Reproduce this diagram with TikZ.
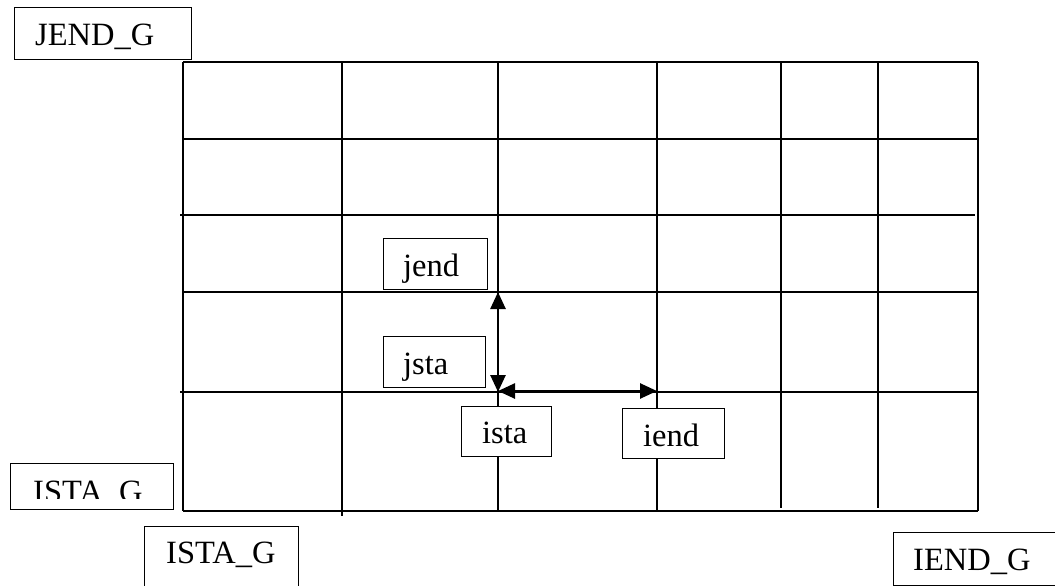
\documentclass[tikz,border=0pt]{standalone}
\usepackage{fontspec}
\setmainfont{Liberation Serif}
\usetikzlibrary{arrows.meta}
\begin{document}
\begin{tikzpicture}[x=1pt,y=-1pt,
  gridline/.style={line width=1.5pt},
  boxnode/.style={draw,line width=1.4pt,fill=white,rectangle,inner sep=0pt},
  lbl/.style={anchor=base west,inner sep=0pt,font=\fontsize{32.5}{37}\selectfont},
  dbl/.style={line width=2.6pt,{Triangle[length=17pt,width=15pt]}-{Triangle[length=17pt,width=15pt]}}]
\clip (0,0) rectangle (1055,586);
\fill[white] (0,0) rectangle (1055,586);
% grid
\draw[gridline] (183,62) -- (978,62);
\draw[gridline] (183,139) -- (978,139);
\draw[gridline] (180,215) -- (975,215);
\draw[gridline] (183,292) -- (978,292);
\draw[gridline] (180,392) -- (978,392);
\draw[gridline] (183,511) -- (978,511);
\draw[gridline] (183,62) -- (183,511);
\draw[gridline] (342,62) -- (342,516);
\draw[gridline] (498,62) -- (498,511);
\draw[gridline] (657,62) -- (657,511);
\draw[gridline] (781,62) -- (781,508);
\draw[gridline] (878,62) -- (878,508);
\draw[gridline] (978,62) -- (978,511);
% coordinates
\coordinate (p1) at (498,292);
\coordinate (p2) at (498,392);
\coordinate (p3) at (498,391);
\coordinate (p4) at (657,391);
\draw[dbl] (p1) -- (p2);
\draw[dbl] (p3) -- (p4);
% boxes
\node[boxnode,anchor=north west,minimum width=177pt,minimum height=52pt] (jendG) at (14,7) {};
\node[lbl] (tjendG) at (35,46) {JEND\_G};
\node[boxnode,anchor=north west,minimum width=163pt,minimum height=46pt] (istaGa) at (10,463) {};
\begin{scope}
\clip (10,463) rectangle (173,498);
\node[lbl] (tistaGa) at (33,502) {ISTA\_G};
\end{scope}
\node[boxnode,anchor=north west,minimum width=154pt,minimum height=90pt] (istaGb) at (144,526) {};
\node[lbl] (tistaGb) at (166,563) {ISTA\_G};
\node[boxnode,anchor=north west,minimum width=180pt,minimum height=53pt] (iendG) at (893,532) {};
\node[lbl] (tiendG) at (913,570) {IEND\_G};
\node[boxnode,anchor=north west,minimum width=104pt,minimum height=51pt] (jendb) at (383,238) {};
\node[lbl] (tjend) at (403,276) {jend};
\node[boxnode,anchor=north west,minimum width=102pt,minimum height=51pt] (jstab) at (383,336) {};
\node[lbl] (tjsta) at (403,374) {jsta};
\node[boxnode,anchor=north west,minimum width=90pt,minimum height=50pt] (istab) at (461,406) {};
\node[lbl] (tista) at (482,443) {ista};
\node[boxnode,anchor=north west,minimum width=102pt,minimum height=50pt] (iendb) at (622,408) {};
\node[lbl] (tiend) at (643,446) {iend};
\end{tikzpicture}
\end{document}
